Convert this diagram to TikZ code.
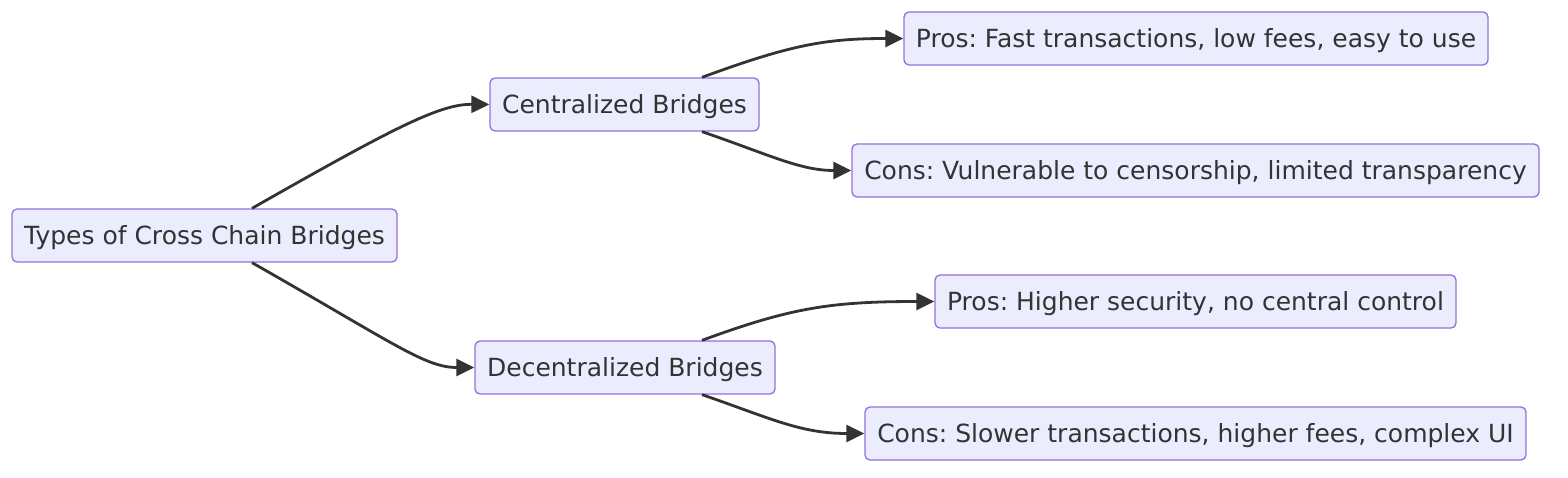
\documentclass[tikz,border=0pt]{standalone}
\usepackage{fontspec}
\setmainfont{DejaVu Sans}
\usetikzlibrary{arrows.meta}
\definecolor{nodefill}{HTML}{ECECFF}
\definecolor{nodeline}{HTML}{9370DB}
\definecolor{ink}{HTML}{333333}
\frenchspacing
\begin{document}
\begin{tikzpicture}[x=1pt,y=-1pt,
  box/.style={draw=nodeline,fill=nodefill,line width=1.3pt,rounded corners=5pt,
    minimum height=53pt,inner sep=0pt,text height=21pt,text depth=3pt,
    text=ink,font=\fontsize{25}{30}\selectfont},
  edge/.style={draw=ink,line width=2.8pt,-{Triangle[length=18pt,width=17pt]}}]
\useasboundingbox (0,0) rectangle (1568,478);
\node[box,minimum width=385pt] (A) at (204.5,235.5) {Types of Cross Chain Bridges};
\node[box,minimum width=269pt] (B) at (624.5,104.5) {Centralized Bridges};
\node[box,minimum width=300pt] (C) at (625,367.5) {Decentralized Bridges};
\node[box,minimum width=584pt] (D) at (1196,38.5) {Pros: Fast transactions, low fees, easy to use};
\node[box,minimum width=687pt] (E) at (1195.5,170.5) {Cons: Vulnerable to censorship, limited transparency};
\node[box,minimum width=521pt] (F) at (1195.5,301.5) {Pros: Higher security, no central control};
\node[box,minimum width=661pt] (G) at (1195.5,433.5) {Cons: Slower transactions, higher fees, complex UI};
\draw[edge] ([xshift=47.5pt]A.north) .. controls (395,127) and (440,104) .. (B.west);
\draw[edge] ([xshift=47.5pt]A.south) .. controls (395,344) and (425,367.5) .. (C.west);
\draw[edge] ([xshift=77.5pt]B.north) .. controls (790,45) and (825,38.5) .. (D.west);
\draw[edge] ([xshift=77.5pt]B.south) .. controls (770,155) and (800,170.5) .. (E.west);
\draw[edge] ([xshift=77pt]C.north) .. controls (790,308) and (830,301.5) .. (F.west);
\draw[edge] ([xshift=77pt]C.south) .. controls (770,418) and (800,433.5) .. (G.west);
\end{tikzpicture}
\end{document}
